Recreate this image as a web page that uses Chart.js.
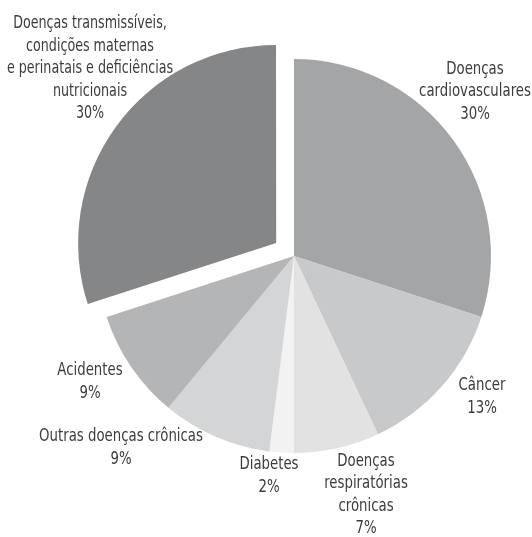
<!DOCTYPE html>
<html>
<head>
<meta charset="utf-8">
<script src="https://cdn.jsdelivr.net/npm/chart.js@4/dist/chart.umd.min.js"></script>
<style>
    body { margin: 0; background: #fff; }
</style>
</head>
<body>
<canvas id="pieChart" width="532" height="537"></canvas>
<script>
const categories = [
    'Doenças cardiovasculares',
    'Câncer',
    'Doenças respiratórias crônicas',
    'Diabetes',
    'Outras doenças crônicas',
    'Acidentes',
    'Doenças transmissíveis, condições maternas e perinatais e deficiências nutricionais'
];
const percentages = [30, 13, 7, 2, 9, 9, 30];

// label lines as printed in the figure (last line is the percentage)
const labelLines = [
    ['Doenças', 'cardiovasculares'],
    ['Câncer'],
    ['Doenças', 'respiratórias', 'crônicas'],
    ['Diabetes'],
    ['Outras doenças crônicas'],
    ['Acidentes'],
    ['Doenças transmissíveis,', 'condições maternas', 'e perinatais e deficiências', 'nutricionais']
];

// layout only: label block centres relative to pie centre, and horizontal squeeze
const labelOffsets = [[181, -164], [188, 141], [72, 239], [-25, 220], [-173, 192], [-204, 126], [-204, -187]];
const labelSqueeze = [0.87, 0.87, 0.87, 0.87, 0.87, 0.87, 0.83];
const sliceColors = ['#a4a5a7', '#c8c9cb', '#e2e2e3', '#f2f2f2', '#d4d5d7', '#b4b5b7', '#858688'];
const sliceOffsets = [0, 0, 0, 0, 0, 0, 88];

const labelPlugin = {
    id: 'sliceLabels',
    afterDatasetsDraw(chart) {
        const ctx = chart.ctx;
        const arc = chart.getDatasetMeta(0).data[0];
        const cx = arc.x, cy = arc.y;
        const lineH = 22.5;
        ctx.save();
        ctx.fillStyle = '#3c3c3c';
        ctx.font = '17px "DejaVu Sans Condensed", sans-serif';
        ctx.textAlign = 'center';
        ctx.textBaseline = 'middle';
        labelLines.forEach((lines, i) => {
            const all = lines.concat([percentages[i] + '%']);
            const x = cx + labelOffsets[i][0];
            const y0 = cy + labelOffsets[i][1] - (all.length - 1) * lineH / 2;
            const sx = labelSqueeze[i];
            all.forEach((t, j) => {
                ctx.save();
                ctx.translate(x, y0 + j * lineH);
                ctx.scale(sx, 1);
                ctx.fillText(t, 0, 0);
                ctx.restore();
            });
        });
        ctx.restore();
    }
};

new Chart(document.getElementById('pieChart'), {
    type: 'pie',
    data: {
        labels: categories,
        datasets: [{
            data: percentages,
            backgroundColor: sliceColors,
            offset: sliceOffsets,
            borderWidth: 0,
            radius: 197
        }]
    },
    options: {
        responsive: false,
        animation: false,
        layout: { padding: { left: 56, right: 0, top: 0, bottom: 25 } },
        plugins: {
            legend: { display: false },
            tooltip: { enabled: false }
        }
    },
    plugins: [labelPlugin]
});
</script>
</body>
</html>
